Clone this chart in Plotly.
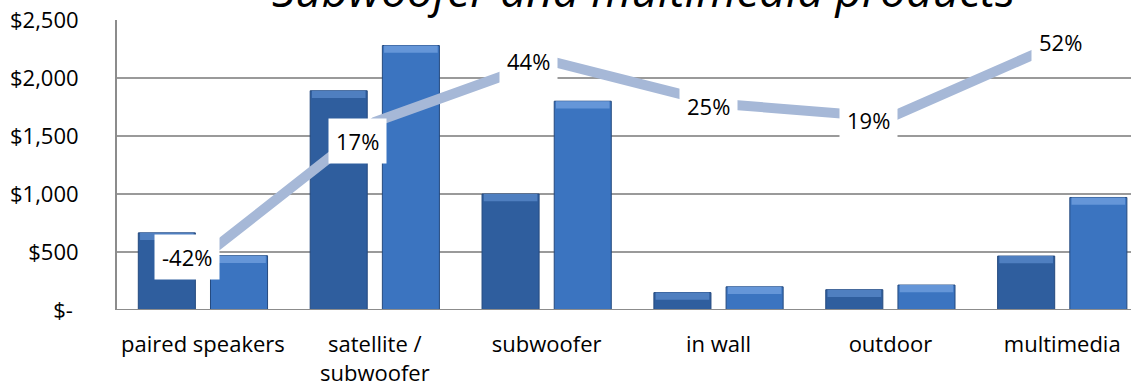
import plotly.graph_objects as go

# Sales by product group, two consecutive years, plus growth of the later year
categories = ["paired speakers", "satellite /<br>subwoofer", "subwoofer", "in wall", "outdoor", "multimedia"]
sales_prev = [665, 1890, 1000, 150, 175, 465]
sales_curr = [468, 2280, 1800, 200, 215, 970]
growth_pct = [-42, 17, 44, 25, 19, 52]
growth_labels = ["-42%", "17%", "44%", "25%", "19%", "52%"]
y_tick_vals = [0, 500, 1000, 1500, 2000, 2500]
y_tick_text = ["$- ", "$500", "$1,000", "$1,500", "$2,000", "$2,500"]

FONT = "Open Sans"
x_idx = list(range(len(categories)))

BAR_W = 0.332
DARK = "#2f5e9e"
DARK_CAP = "#4f7fc0"
LIGHT = "#3b74c0"
LIGHT_CAP = "#6596d8"
CAP = 62  # height of the bevelled top band, in dollars

fig = go.Figure()

for vals, off, body, cap in [
    (sales_prev, -0.376, DARK, DARK_CAP),
    (sales_curr, 0.044, LIGHT, LIGHT_CAP),
]:
    fig.add_trace(go.Bar(
        x=x_idx, y=vals, width=BAR_W, offset=off,
        marker=dict(color=body, line=dict(color="#24497e", width=1)),
        hoverinfo="skip", showlegend=False,
    ))
    fig.add_trace(go.Bar(
        x=x_idx, y=[min(CAP, v * 0.45) for v in vals],
        base=[v - min(CAP, v * 0.45) for v in vals],
        width=BAR_W - 0.02, offset=off + 0.01,
        marker=dict(color=cap, line=dict(width=0)),
        hoverinfo="skip", showlegend=False,
    ))

fig.add_trace(go.Scatter(
    x=x_idx, y=growth_pct, yaxis="y2", mode="lines",
    line=dict(color="#a6b8d7", width=10),
    hoverinfo="skip", showlegend=False,
))

# label nudges (px) so the boxes sit beside the line vertices
label_shift = [(-16, 0), (-17, -19), (-18, -1), (-10, -2), (-22, -3), (-2, 0)]
for i, (g, txt) in enumerate(zip(growth_pct, growth_labels)):
    dx, dy = label_shift[i]
    fig.add_annotation(
        x=i, y=g, xref="x", yref="y2", text=txt, showarrow=False,
        xshift=dx, yshift=dy,
        font=dict(family=FONT, size=22, color="#000000"),
        bgcolor="#ffffff", borderpad=7,
    )

# chart title, partly running off the top edge
fig.add_annotation(
    x=(643 - 117) / 1014, xref="paper", y=1.0 - 2 / 290, yref="paper",
    yanchor="bottom", xanchor="center", showarrow=False,
    text="Subwoofer and multimedia products",
    font=dict(family=FONT, size=46, color="#000000", style="italic"),
)

fig.update_layout(
    width=1131, height=388,
    margin=dict(l=117, r=0, t=20, b=78),
    paper_bgcolor="#ffffff", plot_bgcolor="#ffffff",
    barmode="overlay",
    xaxis=dict(
        range=[-0.5, 5.4], tickvals=x_idx, ticktext=categories,
        showgrid=False, zeroline=False, showline=False,
        ticks="", ticklabelstandoff=19,
        tickfont=dict(family=FONT, size=22, color="#000000"),
        fixedrange=True,
    ),
    yaxis=dict(
        range=[0, 2500], tickvals=y_tick_vals, ticktext=y_tick_text,
        showgrid=True, gridcolor="#9a9a9a", gridwidth=2,
        zeroline=False, showline=True, linecolor="#8c8c8c", linewidth=2,
        ticks="", ticklabelstandoff=32,
        tickfont=dict(family=FONT, size=22, color="#000000"),
        fixedrange=True,
    ),
    yaxis2=dict(
        range=[-65.2, 61.6], overlaying="y", side="right",
        visible=False, fixedrange=True,
    ),
)

# baseline along the bottom of the plot area
fig.add_shape(type="line", xref="paper", yref="y", x0=0, x1=1, y0=0, y1=0,
              line=dict(color="#8c8c8c", width=2), layer="above")

fig.write_html("out.html")
